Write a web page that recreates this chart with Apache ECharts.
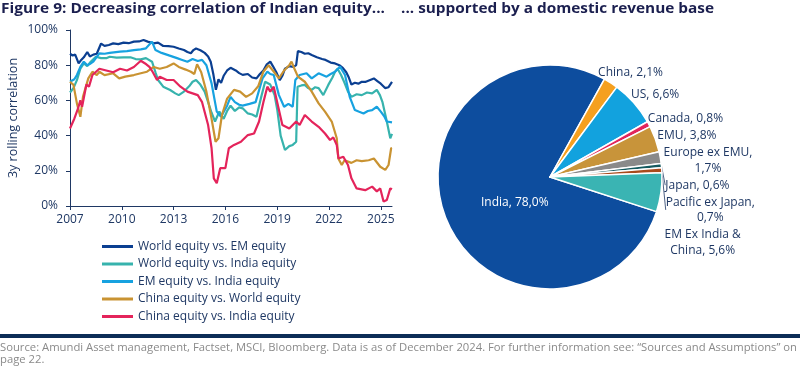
<!DOCTYPE html>
<html><head><meta charset="utf-8">
<script src="https://cdn.jsdelivr.net/npm/echarts@6/dist/echarts.min.js"></script>
<style>html,body{margin:0;padding:0;background:#fff}#c{width:800px;height:367px}</style>
</head><body><div id="c"></div>
<script>
const FONT = '"Open Sans", "Noto Sans", sans-serif';
const TXT = '#1f3864';

const seriesNames = ['World equity vs. EM equity','World equity vs. India equity','EM equity vs. India equity','China equity vs. World equity','China equity vs. India equity'];
const seriesColors = ['#0b3f91','#37b3ad','#17a2e0','#c99332','#e4245b'];

const worldEmYears = [2007.0,2007.15,2007.3,2007.5,2007.65,2007.8,2008.0,2008.15,2008.35,2008.55,2008.8,2009.0,2009.25,2009.5,2009.8,2010.1,2010.4,2010.7,2011.0,2011.26,2011.5,2011.84,2012.1,2012.4,2012.7,2013.0,2013.3,2013.6,2013.8,2014.0,2014.15,2014.3,2014.55,2014.8,2015.0,2015.15,2015.3,2015.45,2015.6,2015.75,2015.9,2016.1,2016.3,2016.6,2016.8,2017.0,2017.3,2017.55,2017.8,2018.0,2018.2,2018.4,2018.6,2018.75,2018.95,2019.15,2019.3,2019.45,2019.7,2019.95,2020.1,2020.2,2020.4,2020.6,2020.8,2021.0,2021.3,2021.6,2021.8,2022.1,2022.35,2022.6,2022.8,2023.0,2023.15,2023.3,2023.5,2023.7,2023.9,2024.1,2024.35,2024.6,2024.8,2025.0,2025.25,2025.45,2025.65];
const worldEmValues = [86.5,85.5,86,81,83,84.5,87.5,85,86,86.5,92.3,91,91.5,92.4,92,92.8,92.5,93.4,93.5,94.3,93.4,92.4,92.8,90.9,90.8,90.5,89.5,88.6,87.5,86.8,88.6,89.5,88.5,87,85,82,75,66,72,70,74,77,78.5,77,75.5,74.5,75,73,72.5,75,77,80.5,82,79.5,76,71.5,74,78,79.5,79,80,88,87.5,86.5,86.8,85.8,84.5,83.5,83,81.5,81,80,78.5,76,73,69,70,69.5,70.6,70.5,71.5,72.5,71,69.5,67,67.5,70.5];

const worldIndiaYears = [2007.0,2007.2,2007.4,2007.6,2007.8,2008.0,2008.2,2008.5,2008.8,2009.1,2009.3,2009.7,2010.1,2010.5,2010.8,2011.1,2011.4,2011.75,2011.95,2012.1,2012.4,2012.8,2013.1,2013.3,2013.6,2013.9,2014.1,2014.3,2014.55,2014.8,2015.0,2015.2,2015.4,2015.65,2015.9,2016.1,2016.3,2016.55,2016.8,2017.0,2017.3,2017.55,2017.8,2018.05,2018.3,2018.6,2018.85,2019.0,2019.2,2019.45,2019.7,2019.9,2020.1,2020.18,2020.4,2020.6,2020.8,2021.0,2021.2,2021.4,2021.67,2021.96,2022.2,2022.35,2022.5,2022.7,2022.9,2023.1,2023.3,2023.6,2023.9,2024.2,2024.5,2024.77,2024.95,2025.1,2025.35,2025.55,2025.65];
const worldIndiaValues = [64.5,67,71.5,78,81,79.5,82,84.8,84,84,84.8,84.3,84.5,84.5,83.5,83.3,84,82,76,71.6,67.8,65.9,64,63,65,68,70.6,71.6,69,65,59,53,48,53.7,49.5,54,57,54,56,55.5,52.6,52,50.7,61,70.6,69,63,55,40,31.8,34,34.7,36.5,67.8,68.5,68.8,67,66,67.5,67,63,68.8,73,76.3,78,74.4,70,65,62,63.5,63,64.5,64,66,63,59,48,38.5,41];

const emIndiaYears = [2007.0,2007.25,2007.4,2007.6,2007.8,2008.0,2008.2,2008.35,2008.7,2009.0,2009.3,2009.9,2010.3,2010.7,2011.1,2011.4,2011.75,2011.95,2012.3,2012.6,2012.9,2013.2,2013.5,2013.8,2014.1,2014.4,2014.65,2014.9,2015.2,2015.5,2015.75,2016.1,2016.3,2016.55,2016.8,2017.0,2017.4,2017.75,2018.15,2018.43,2018.6,2018.8,2019.1,2019.4,2019.65,2019.9,2020.05,2020.3,2020.7,2021.0,2021.4,2021.86,2022.1,2022.35,2022.64,2022.93,2023.2,2023.5,2023.75,2024.0,2024.25,2024.5,2024.77,2025.0,2025.2,2025.35,2025.65];
const emIndiaValues = [70.6,72,74.4,79,82,80,81,82,86.7,86.5,87,87.7,88,88.6,89,89.6,93.4,88.6,87,86,85,84,83,82,83.5,82.4,83,80,69.7,53.6,50.7,57,62,59,57.5,57,58,59,72.5,76.3,75,74.4,63,56.4,58,56.4,71.6,74.4,75.4,72.5,75.4,73.5,75,76.3,79.2,74.4,62,54.5,53.5,52.6,54,54.5,56.4,53.6,51,48,47.5];

const chinaWorldYears = [2007.0,2007.2,2007.4,2007.6,2007.75,2008.06,2008.3,2008.55,2008.7,2009.0,2009.5,2009.85,2010.2,2010.7,2011.1,2011.46,2011.85,2012.2,2012.6,2013.0,2013.3,2013.7,2014.0,2014.2,2014.36,2014.6,2014.9,2015.2,2015.43,2015.6,2015.8,2016.1,2016.5,2016.85,2017.2,2017.55,2017.9,2018.2,2018.5,2018.75,2019.1,2019.4,2019.7,2019.83,2020.0,2020.2,2020.6,2021.0,2021.4,2021.77,2022.16,2022.45,2022.54,2022.74,2022.9,2023.3,2023.6,2023.9,2024.3,2024.6,2024.97,2025.26,2025.45,2025.6,2025.65];
const chinaWorldValues = [70.6,68.8,58.3,50.7,62,72.5,76.3,74.4,76.3,74.4,75.4,72.5,73.5,74.4,75.4,76.3,79,78,79,81,79,77.5,76.3,75,80.5,76,65,49.5,36.5,38.5,51.7,61,66,65,62,64,68,76.3,80,77,72.5,77,80,82,78,73.5,70.6,65,58.3,53.6,48,38.5,27,23.3,26,24.5,26,25.5,26,27,22.3,20.5,23.3,32.8,33];

const chinaIndiaYears = [2007.0,2007.25,2007.45,2007.6,2007.7,2007.95,2008.1,2008.3,2008.7,2009.1,2009.5,2009.9,2010.3,2010.7,2011.1,2011.35,2011.6,2011.8,2012.04,2012.2,2012.6,2013.0,2013.4,2013.8,2014.1,2014.4,2014.65,2015.0,2015.2,2015.33,2015.5,2015.7,2016.0,2016.2,2016.5,2016.9,2017.3,2017.66,2017.95,2018.2,2018.43,2018.6,2018.8,2019.0,2019.3,2019.7,2020.1,2020.3,2020.6,2021.0,2021.4,2021.77,2022.06,2022.25,2022.45,2022.55,2022.83,2023.1,2023.3,2023.6,2024.1,2024.5,2024.77,2024.97,2025.16,2025.35,2025.55,2025.65];
const chinaIndiaValues = [44,49.6,55,60,56.4,69,67.8,74.4,78,77,76,78,77,79,82.5,81,79,76,71.6,73.5,71.6,71.6,67.8,65,64,63,59,46,32.8,15.7,12.9,21.5,21.5,32.8,34.7,36.5,40.3,41.2,48,59,67.8,65,67.8,59,46,44,48,46,51.7,48,45,41.2,37.5,39,34.7,27,28,23.3,15.7,10,9,11,8.3,10,2.5,3.4,10,9.5];

const xTicks = [2007,2010,2013,2016,2019,2022,2025];

const pieNames = ['India','China','US','Canada','EMU','Europe ex EMU','Japan','Pacific ex Japan','EM Ex India & China'];
const pieValues = [78.0,2.1,6.6,0.8,3.8,1.7,0.6,0.7,5.6];
const pieColors = ['#0d4d9e','#f5a020','#12a2de','#e2265c','#c8943a','#8a8a8a','#14595f','#a84a1c','#3ab4b3'];

const titleLeft = 'Figure 9: Decreasing correlation of Indian equity...';
const titleRight = '... supported by a domestic revenue base';
const footer1 = 'Source: Amundi Asset management, Factset, MSCI, Bloomberg. Data is as of December 2024. For further information see: \u201cSources and Assumptions\u201d on';
const footer2 = 'page 22.';

// ---- pie label layout (computed from data) ----
const cx = 550, cy = 177, R = 112, startAngle = -18, LH = 15.5;
const ctx = document.createElement('canvas').getContext('2d');
ctx.font = '12px ' + FONT;
function fmtPct(v){ return v.toFixed(1).replace('.', ',') + '%'; }
function wrap(text, maxW){
  const words = text.split(' '); const lines = []; let cur = '';
  for (const w of words){ const t = cur ? cur + ' ' + w : w;
    if (ctx.measureText(t).width > maxW && cur){ lines.push(cur); cur = w; } else cur = t; }
  lines.push(cur); return lines;
}
const total = pieValues.reduce((a,b)=>a+b,0);
const labelInfo = [];
let acc = 0, prevBottom = -Infinity;
pieValues.forEach((v,i)=>{
  const a0 = startAngle - acc/total*360; acc += v; const a1 = startAngle - acc/total*360;
  const mid = (a0+a1)/2*Math.PI/180;
  const text = pieNames[i] + ', ' + fmtPct(v);
  if (i === 0){
    const tw = ctx.measureText(text).width;
    labelInfo.push({lines:[text], x: cx + 0.5*R*Math.cos(mid) + tw*0.25, y: cy - 0.5*R*Math.sin(mid) + 5});
    return;
  }
  const lines = wrap(text, 100);
  const w = Math.max(...lines.map(l=>ctx.measureText(l).width));
  const h = lines.length*LH;
  const ax = cx + (R+4)*Math.cos(mid), ay = cy - (R+4)*Math.sin(mid);
  const bx = ax + w/2*Math.cos(mid);
  let by = ay - h/2*Math.sin(mid);
  if (by - h/2 < prevBottom + 1.5) by = prevBottom + 1.5 + h/2;
  prevBottom = by + h/2;
  labelInfo.push({lines, x: bx, y: by});
});

const pieData = pieNames.map((n,i)=>{
  const d = {name:n, value:pieValues[i], itemStyle:{color:pieColors[i]}};
  if (i === 0) d.label = {position:'inside', color:'#ffffff'};
  if (n === 'Japan' || n === 'Pacific ex Japan') d.labelLine = {show:true, length:4, length2:0, lineStyle:{color:TXT, width:0.8}};
  return d;
});

function mk(years, vals){ return years.map((y,i)=>[y, vals[i]]); }
const lineData = [mk(worldEmYears,worldEmValues), mk(worldIndiaYears,worldIndiaValues), mk(emIndiaYears,emIndiaValues), mk(chinaWorldYears,chinaWorldValues), mk(chinaIndiaYears,chinaIndiaValues)];

ctx.font = '10px ' + FONT;
const footScale = 797 / ctx.measureText(footer1).width;
ctx.font = 'bold 14px ' + FONT;
const titleScaleL = 384 / ctx.measureText(titleLeft).width;
const titleScaleR = 313 / ctx.measureText(titleRight).width;

const chart = echarts.init(document.getElementById('c'), null, {renderer:'canvas'});
chart.setOption({
  animation:false,
  textStyle:{fontFamily:FONT},
  grid:{left:70, right:408, top:30, bottom:161},
  xAxis:{type:'value', min:2007, max:2025.65, interval:3,
    axisLine:{lineStyle:{color:TXT, width:1}},
    axisTick:{show:true, length:4, customValues:xTicks, lineStyle:{color:TXT}},
    axisLabel:{customValues:xTicks, color:TXT, fontSize:12, margin:8, formatter:v=>String(Math.round(v))},
    splitLine:{show:false}},
  yAxis:{type:'value', min:0, max:100, interval:20,
    name:'3y rolling correlation', nameLocation:'middle', nameGap:50, nameRotate:90,
    nameTextStyle:{color:TXT, fontSize:12.5},
    axisLine:{show:true, lineStyle:{color:TXT, width:1}},
    axisTick:{show:true, length:4, lineStyle:{color:TXT}},
    axisLabel:{color:TXT, fontSize:12, margin:12, formatter:'{value}%'},
    splitLine:{show:false}},
  legend:{data:seriesNames, orient:'vertical', left:97, top:235.5, icon:'rect', itemWidth:31, itemHeight:3, itemGap:5.5,
    textStyle:{color:TXT, fontSize:12, lineHeight:12}},
  series:[
    ...seriesNames.map((n,i)=>({type:'line', name:n, data:lineData[i], showSymbol:false, symbol:'none',
      lineStyle:{width:2.2, color:seriesColors[i]}, itemStyle:{color:seriesColors[i]}, z:2+i})),
    {type:'pie', center:[cx,cy], radius:R, startAngle:startAngle, clockwise:true,
      data:pieData,
      itemStyle:{borderColor:'#fff', borderWidth:1.5},
      label:{show:true, position:'outside', color:TXT, fontSize:12, lineHeight:LH, fontFamily:FONT, overflow:'none',
        formatter:p=>labelInfo[p.dataIndex].lines.join('\n')},
      labelLine:{show:false},
      labelLayout:p=>{ const L = labelInfo[p.dataIndex]; if (!L || L.x === undefined) return {}; return {x:L.x, y:L.y, align:'center', verticalAlign:'middle'}; },
      emphasis:{disabled:true}}
  ],
  graphic:[
    {type:'text', x:1, y:9, scaleX:titleScaleL, style:{text:titleLeft, font:'bold 14px ' + FONT, fill:'#1b1f4f', verticalAlign:'middle'}},
    {type:'text', x:401, y:9, scaleX:titleScaleR, style:{text:titleRight, font:'bold 14px ' + FONT, fill:'#1b1f4f', verticalAlign:'middle'}},
    {type:'rect', shape:{x:0, y:334, width:800, height:4}, style:{fill:'#0c2d57'}},
    {type:'text', x:0, y:348, scaleX:footScale, style:{text:footer1, font:'10px ' + FONT, fill:'#8a8a8a', verticalAlign:'middle'}},
    {type:'text', x:0, y:360, scaleX:footScale, style:{text:footer2, font:'10px ' + FONT, fill:'#8a8a8a', verticalAlign:'middle'}}
  ]
});
</script></body></html>
